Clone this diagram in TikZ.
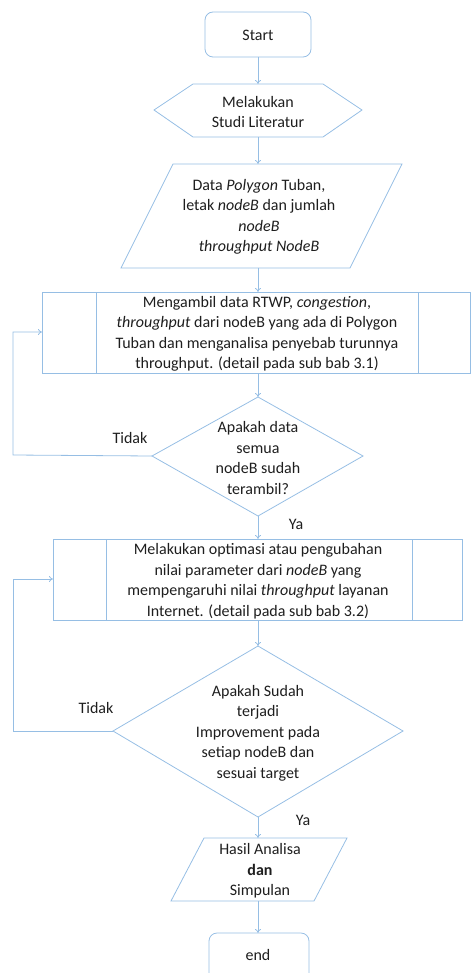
\documentclass[tikz,border=0pt]{standalone}
\usepackage{fontspec}
\setmainfont{Carlito}
\usetikzlibrary{arrows.meta}
\definecolor{ln}{RGB}{150,190,228}
\definecolor{tx}{RGB}{30,30,30}
\begin{document}
\begin{tikzpicture}[x=1pt,y=-1pt,
  shp/.style={draw=ln,line width=0.8pt},
  con/.style={draw=ln,line width=0.8pt,-{To[length=4pt,width=6pt]}},
  txt/.style={text=tx,font=\fontsize{16}{20.5}\selectfont,align=center,inner sep=0pt},
  lbl/.style={text=tx,font=\fontsize{16}{20}\selectfont,inner sep=0pt}]
\useasboundingbox (0,0) rectangle (472,973);
\clip (0,0) rectangle (472,973);
% Start
\draw[shp,rounded corners=8pt] (205,12) rectangle (311,57);
\node[txt] (start) at (258,35) {Start};
\coordinate (startB) at (258,57);
% hexagon
\draw[shp] (154,110) -- (193,84) -- (323,84) -- (362,110) -- (323,137) -- (193,137) -- cycle;
\node[txt] (studi) at (258,112) {Melakukan\\Studi Literatur};
\coordinate (hexT) at (258,84);
\coordinate (hexB) at (258,137);
% parallelogram 1
\draw[shp] (121,268) -- (173,164) -- (402,164) -- (350,268) -- cycle;
\node[txt] (data) at (259,217) {Data \textit{Polygon} Tuban,\\letak \textit{nodeB} dan jumlah\\\textit{nodeB}\\\textit{throughput NodeB}};
\coordinate (p1T) at (258,164);
\coordinate (p1B) at (258,268);
% process 1
\draw[shp] (42,292) rectangle (470,373);
\draw[shp] (96,292) -- (96,373) (418,292) -- (418,373);
\node[txt] (proc1) at (257,334) {Mengambil data RTWP, \textit{congestion},\\\textit{throughput} dari nodeB yang ada di Polygon\\Tuban dan menganalisa penyebab turunnya\\throughput. (detail pada sub bab 3.1)};
\coordinate (pr1T) at (258,292);
\coordinate (pr1B) at (258,373);
\coordinate (pr1L) at (42,332);
% diamond 1
\draw[shp] (152,456) -- (258,397) -- (363,456) -- (258,516) -- cycle;
\node[txt] (dec1) at (258,458) {Apakah data\\semua\\nodeB sudah\\terambil?};
\coordinate (d1T) at (258,397);
\coordinate (d1B) at (258,516);
\coordinate (d1L) at (152,456);
\coordinate (loop1) at (13,455);
% process 2
\draw[shp] (53,539) rectangle (462,620);
\draw[shp] (106,539) -- (106,620) (412,539) -- (412,620);
\node[txt] (proc2) at (258,581) {Melakukan optimasi atau pengubahan\\nilai parameter dari \textit{nodeB} yang\\mempengaruhi nilai \textit{throughput} layanan\\Internet. (detail pada sub bab 3.2)};
\coordinate (pr2T) at (258,539);
\coordinate (pr2B) at (258,620);
\coordinate (pr2L) at (53,579);
% diamond 2
\draw[shp] (113,731) -- (258,646) -- (403,731) -- (258,817) -- cycle;
\node[txt] (dec2) at (258,733) {Apakah Sudah\\terjadi\\Improvement pada\\setiap nodeB dan\\sesuai target};
\coordinate (d2T) at (258,646);
\coordinate (d2B) at (258,817);
\coordinate (d2L) at (113,731);
\coordinate (loop2) at (13,731);
% parallelogram 2
\draw[shp] (171,901) -- (204,838) -- (347,838) -- (314,901) -- cycle;
\node[txt] (hasil) at (260,871) {Hasil Analisa\\\textbf{dan}\\Simpulan};
\coordinate (p2T) at (258,838);
\coordinate (p2B) at (258,901);
% end
\draw[shp,rounded corners=8pt] (209,933) rectangle (309,1000);
\node[txt] (end) at (258,955) {end};
\coordinate (endT) at (258,933);
% connectors
\draw[con] (startB) -- (hexT);
\draw[con] (hexB) -- (p1T);
\draw[con] (p1B) -- (pr1T);
\draw[con] (pr1B) -- (d1T);
\draw[con] (d1B) -- (pr2T);
\draw[con] (pr2B) -- (d2T);
\draw[con] (d2B) -- (p2T);
\draw[con] (p2B) -- (endT);
\draw[con] (d1L) -- (loop1) |- (pr1L);
\draw[con] (d2L) -- (loop2) |- (pr2L);
% labels
\node[lbl] (tidak1) at (130,438) {Tidak};
\node[lbl] (ya1) at (296,524) {Ya};
\node[lbl] (tidak2) at (96,708) {Tidak};
\node[lbl] (ya2) at (303,820) {Ya};
\end{tikzpicture}
\end{document}
